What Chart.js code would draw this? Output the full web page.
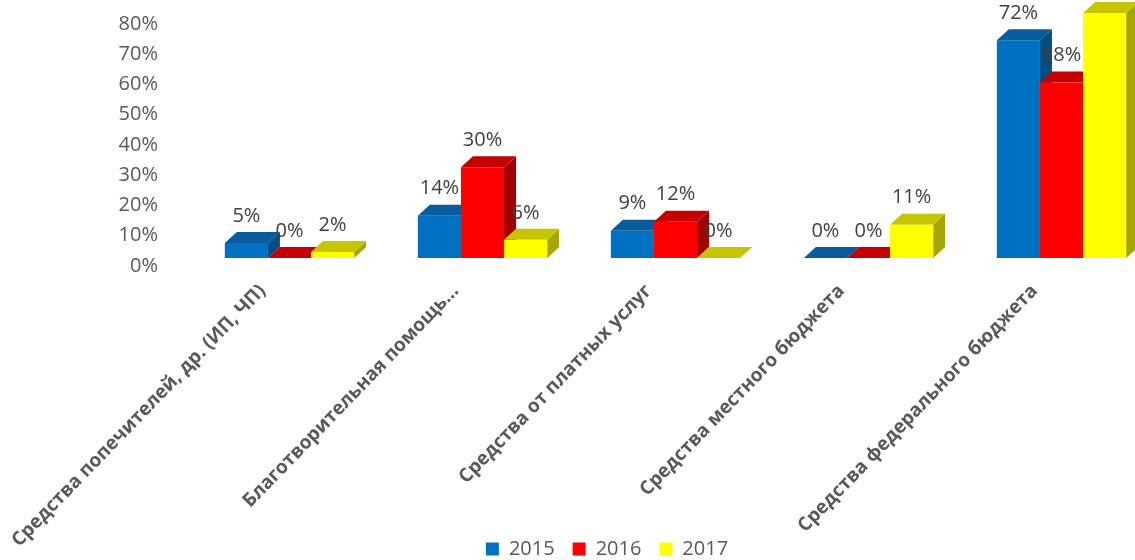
<!DOCTYPE html>
<html>
<head>
<meta charset="utf-8">
<script src="https://cdn.jsdelivr.net/npm/chart.js@4/dist/chart.umd.min.js"></script>
<style>
  html, body { margin: 0; padding: 0; background: #fff; overflow: hidden; }
  #wrap { width: 1160px; height: 560px; }
</style>
</head>
<body>
<div id="wrap"><canvas id="myChart" width="1160" height="560"></canvas></div>
<script>
// данные
const categories = [
  'Средства попечителей, др. (ИП, ЧП)',
  'Благотворительная помощь...',
  'Средства от платных услуг',
  'Средства местного бюджета',
  'Средства федерального бюджета'
];
const years = ['2015', '2016', '2017'];
const values2015 = [5, 14, 9, 0, 72];
const values2016 = [0, 30, 12, 0, 58];
const values2017 = [2, 6, 0, 11, 81];

// цвета граней
const frontColors = ['#0070C0', '#FF0000', '#FFFF00'];
const topColors = ['#0A5B9C', '#C40000', '#C6C600'];
const sideColors = ['#044C84', '#A20000', '#A6A600'];
const DX = 12, DY = 11; // глубина 3D

const fontName = "'Open Sans', 'Noto Sans', sans-serif";

const bars3d = {
  id: 'bars3d',
  afterLayout(chart) {
    // легенда поверх нижней части подписей оси X
    chart.legend.top -= 37;
    chart.legend.bottom -= 37;
  },
  beforeDatasetsDraw(chart) {
    const ctx = chart.ctx;
    ctx.save();
    for (let i = 0; i < chart.data.labels.length; i++) {
      chart.data.datasets.forEach((ds, d) => {
        const bar = chart.getDatasetMeta(d).data[i];
        const l = bar.x - bar.width / 2, r = bar.x + bar.width / 2;
        const t = bar.y, b = bar.base;
        // side
        ctx.fillStyle = sideColors[d];
        ctx.beginPath();
        ctx.moveTo(r, b); ctx.lineTo(r + DX, b - DY);
        ctx.lineTo(r + DX, t - DY); ctx.lineTo(r, t);
        ctx.closePath(); ctx.fill();
        // top
        ctx.fillStyle = topColors[d];
        ctx.beginPath();
        ctx.moveTo(l, t); ctx.lineTo(l + DX, t - DY);
        ctx.lineTo(r + DX, t - DY); ctx.lineTo(r, t);
        ctx.closePath(); ctx.fill();
        // front
        ctx.fillStyle = frontColors[d];
        ctx.fillRect(l, t, r - l, b - t);
      });
    }
    ctx.restore();
    return false;
  },
  afterDraw(chart) {
    const ctx = chart.ctx;
    ctx.save();
    ctx.font = '20px ' + fontName;
    ctx.fillStyle = '#404040';
    ctx.textAlign = 'center';
    ctx.textBaseline = 'middle';
    chart.data.datasets.forEach((ds, d) => {
      chart.getDatasetMeta(d).data.forEach((bar, i) => {
        ctx.fillText(ds.data[i] + '%', bar.x, bar.y - 27);
      });
    });
    ctx.restore();
  }
};

const data = {
  labels: categories,
  datasets: [
    { label: years[0], data: values2015, backgroundColor: frontColors[0] },
    { label: years[1], data: values2016, backgroundColor: frontColors[1] },
    { label: years[2], data: values2017, backgroundColor: frontColors[2] }
  ]
};

const config = {
  type: 'bar',
  data: data,
  options: {
    responsive: false,
    animation: false,
    layout: { padding: { left: 56, right: 2, top: 16, bottom: -46 } },
    datasets: { bar: { categoryPercentage: 0.67, barPercentage: 1.0 } },
    plugins: {
      legend: {
        position: 'bottom',
        labels: {
          boxWidth: 13, boxHeight: 13, padding: 18,
          color: '#595959',
          font: { family: fontName, size: 20 }
        }
      },
      tooltip: { enabled: false }
    },
    scales: {
      x: {
        grid: { display: false, drawTicks: false },
        border: { display: false },
        afterFit: (s) => { s.height = 300; s.paddingLeft = 0; s.paddingRight = 0; },
        ticks: {
          autoSkip: false,
          minRotation: 46, maxRotation: 46,
          labelOffset: -27,
          padding: 22,
          color: '#595959',
          font: { family: fontName, size: 19, weight: 'bold' }
        }
      },
      y: {
        min: 0, max: 80,
        grid: { display: false, drawTicks: false },
        border: { display: false },
        afterFit: (s) => { s.width = 137; s.paddingTop = 10; s.paddingBottom = 10; },
        ticks: {
          stepSize: 10,
          autoSkip: false,
          padding: 35,
          labelOffset: 8,
          color: '#595959',
          font: { family: fontName, size: 20 },
          callback: (v) => v + '%'
        }
      }
    }
  },
  plugins: [bars3d]
};

const myChart = new Chart(document.getElementById('myChart'), config);
</script>
</body>
</html>
